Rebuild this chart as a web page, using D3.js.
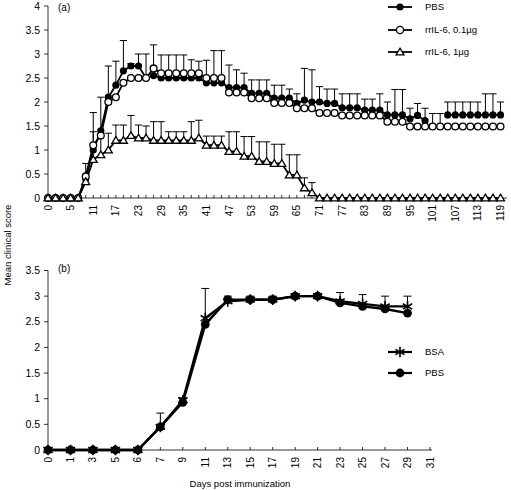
<!DOCTYPE html>
<html><head><meta charset="utf-8">
<script src="https://cdn.jsdelivr.net/npm/d3@7"></script>
<style>body{margin:0;background:#fff} text{font-family:"Liberation Sans",Arial,Helvetica,sans-serif;fill:#000}</style>
</head><body><svg id="c" width="511" height="490"></svg>
<script>
// ---------- Panel (a) data ----------
const topDays = [0,1,3,5,7,9,11,13,15,17,19,21,23,25,27,29,31,33,35,37,39,41,43,45,47,49,51,53,55,57,59,61,63,65,67,69,71,73,75,77,79,81,83,85,87,89,91,93,95,97,99,101,103,105,107,109,111,113,115,117,119];
const topTickLabels = [0,5,11,17,23,29,35,41,47,53,59,65,71,77,83,89,95,101,107,113,119];
const pbsA = [0,0,0,0,0,0.4,1.0,1.4,2.1,2.35,2.65,2.75,2.75,2.5,2.55,2.5,2.5,2.5,2.5,2.5,2.5,2.4,2.4,2.4,2.3,2.3,2.3,2.18,2.18,2.18,2.08,2.08,2.08,1.97,2.04,2.0,2.0,1.97,1.97,1.88,1.88,1.88,1.83,1.83,1.83,1.73,1.73,1.73,1.65,1.72,1.61,null,null,1.73,1.73,1.73,1.73,1.73,1.73,1.73,1.73];
const il01A = [0,0,0,0,0,0.45,1.1,1.3,2.0,2.1,2.4,2.5,2.5,2.5,2.7,2.6,2.6,2.6,2.6,2.6,2.6,2.5,2.5,2.5,2.2,2.2,2.2,2.08,2.08,2.08,1.98,1.98,1.98,1.87,1.87,1.87,1.77,1.77,1.77,1.72,1.72,1.72,1.72,1.72,1.72,1.59,1.59,1.59,1.49,1.49,1.49,1.49,1.49,1.49,1.49,1.49,1.49,1.49,1.49,1.49,1.49];
const il1A = [0,0,0,0,0,0.34,0.8,0.9,1.0,1.2,1.2,1.3,1.25,1.25,1.2,1.2,1.2,1.2,1.2,1.2,1.25,1.1,1.1,1.1,0.97,0.97,0.87,0.87,0.76,0.76,0.72,0.72,0.48,0.48,0.21,0.11,0,0,0,0,0,0,0,0,0,0,0,0,0,0,0,0,0,0,0,0,0,0,0,0,0];
// upper error-bar ends
const pbsAErr = [null,null,null,null,null,0.72,null,2.1,2.75,2.85,3.28,2.8,3.0,3.0,null,null,null,null,null,null,null,null,null,null,2.77,2.67,2.6,2.46,2.46,2.46,2.35,2.35,2.27,2.17,2.7,2.67,2.32,2.27,2.27,2.17,2.17,2.17,2.06,2.06,2.17,2.0,2.26,2.26,1.87,1.97,1.87,null,null,2.0,2.0,2.0,2.0,2.0,2.17,2.17,2.0];
const il01AErr = [null,null,null,null,null,null,1.78,null,null,null,null,null,null,null,3.19,2.98,2.98,2.98,2.98,2.88,2.85,2.87,3.07,3.07,null,null,null,null,null,null,null,null,null,null,null,null,null,null,null,null,null,null,null,null,null,null,null,null,null,null,null,1.76,1.76,null,null,null,null,null,null,null,null];
const il1AErr = [null,null,null,null,null,null,1.38,1.3,1.35,1.52,1.52,1.72,1.52,1.5,1.59,1.59,1.38,1.38,1.38,1.59,1.62,1.29,1.29,1.29,1.38,1.38,1.28,1.28,1.17,1.17,1.12,1.12,0.9,0.9,0.42,0.32,null,null,null,null,null,null,null,null,null,null,null,null,null,null,null,null,null,null,null,null,null,null,null,null,null];
const topYTicks = [0,0.5,1,1.5,2,2.5,3,3.5,4];
const legendA = ["PBS","rrIL-6, 0.1\u00b5g","rrIL-6, 1\u00b5g"];

// ---------- Panel (b) data ----------
const bottomDays = [0,1,3,5,6,7,9,11,13,15,17,19,21,23,25,27,29,31];
const bsaB = [0,0,0,0,0,0.45,0.97,2.57,2.9,2.93,2.93,3.0,3.0,2.9,2.85,2.8,2.8];
const pbsB = [0,0,0,0,0,0.45,0.93,2.45,2.93,2.93,2.93,3.0,3.0,2.87,2.8,2.75,2.67];
const bsaBErr = [null,null,null,null,null,0.72,1.02,3.15,3.0,3.0,3.0,3.02,3.02,3.07,3.03,3.0,3.0];
const bottomYTicks = [0,0.5,1,1.5,2,2.5,3,3.5];
const legendB = ["BSA","PBS"];

const svg = d3.select("#c");

function drawAxes(g, x, y, yTicks, xLabels, x0, x1, labelY){
  const yb = y.range()[0], yt = y.range()[1];
  g.append("line").attr("x1",x0).attr("x2",x0).attr("y1",yb).attr("y2",yt).attr("stroke","#000").attr("stroke-width",0.8);
  g.append("line").attr("x1",x0).attr("x2",x1).attr("y1",yb).attr("y2",yb).attr("stroke","#000").attr("stroke-width",0.8);
  yTicks.forEach(t=>{
    g.append("line").attr("x1",x0-4).attr("x2",x0).attr("y1",y(t)).attr("y2",y(t)).attr("stroke","#000").attr("stroke-width",0.8);
    g.append("text").attr("x",x0-8).attr("y",y(t)).attr("dy","0.35em").attr("text-anchor","end").attr("font-size",10.5).text(String(t));
  });
  x.domain().forEach(d=>{
    g.append("line").attr("x1",x(d)).attr("x2",x(d)).attr("y1",yb).attr("y2",yb-3).attr("stroke","#000").attr("stroke-width",0.8);
  });
  xLabels.forEach(d=>{
    g.append("text").attr("transform",`translate(${x(d)},${labelY}) rotate(-90)`).attr("dy","0.35em").attr("text-anchor","end").attr("font-size",10).text(String(d));
  });
}

function drawErr(g, x, y, days, vals, tops, cap){
  tops.forEach((t,i)=>{
    if(t==null || vals[i]==null) return;
    const cx = x(days[i]);
    g.append("line").attr("x1",cx).attr("x2",cx).attr("y1",y(vals[i])).attr("y2",y(t)).attr("stroke","#000").attr("stroke-width",1);
    g.append("line").attr("x1",cx-cap).attr("x2",cx+cap).attr("y1",y(t)).attr("y2",y(t)).attr("stroke","#000").attr("stroke-width",1);
  });
}

function drawLine(g, x, y, days, vals, w){
  const line = d3.line().defined(d=>d[1]!=null).x(d=>x(d[0])).y(d=>y(d[1]));
  g.append("path").datum(vals.map((v,i)=>[days[i],v])).attr("d",line).attr("fill","none").attr("stroke","#000").attr("stroke-width",w).attr("stroke-linejoin","round");
}

function drawMarkers(g, x, y, days, vals, type, size){
  const pts = vals.map((v,i)=>[days[i],v]).filter(d=>d[1]!=null);
  pts.forEach(d=>drawSymbol(g, x(d[0]), y(d[1]), type, size));
}
function drawSymbol(g, cx, cy, type, size){
  if(type==="filled"){
    g.append("circle").attr("cx",cx).attr("cy",cy).attr("r",size).attr("fill","#000");
  } else if(type==="open"){
    g.append("circle").attr("cx",cx).attr("cy",cy).attr("r",size).attr("fill","#fff").attr("stroke","#000").attr("stroke-width",1.3);
  } else if(type==="tri"){
    const s = size;
    g.append("path").attr("d",`M${cx},${cy-s}L${cx+s*1.05},${cy+s*0.75}L${cx-s*1.05},${cy+s*0.75}Z`).attr("fill","#fff").attr("stroke","#000").attr("stroke-width",1.3);
  } else if(type==="star"){
    g.append("path").attr("transform",`translate(${cx},${cy})`).attr("d",d3.symbol(d3.symbolAsterisk, size*size*4)()).attr("fill","none").attr("stroke","#000").attr("stroke-width",1.6);
  }
}

// ---------- Panel (a) ----------
const gA = svg.append("g");
const xA = d3.scalePoint().domain(topDays).range([48,500.5]);
const yA = d3.scaleLinear().domain([0,4]).range([198,6]);
drawAxes(gA, xA, yA, topYTicks, topTickLabels, 48, 507, 205);
drawErr(gA, xA, yA, topDays, pbsA, pbsAErr, 3.6);
drawErr(gA, xA, yA, topDays, il01A, il01AErr, 3.6);
drawErr(gA, xA, yA, topDays, il1A, il1AErr, 3.6);
drawLine(gA, xA, yA, topDays, pbsA, 1.8);
drawLine(gA, xA, yA, topDays, il01A, 1.8);
drawLine(gA, xA, yA, topDays, il1A, 1.8);
drawMarkers(gA, xA, yA, topDays, pbsA, "filled", 3.6);
drawMarkers(gA, xA, yA, topDays, il01A, "open", 3.4);
drawMarkers(gA, xA, yA, topDays, il1A, "tri", 3.8);
gA.append("text").attr("x",58).attr("y",11).attr("font-size",10).text("(a)");
const legTypes = ["filled","open","tri"];
[7,30,52].forEach((ly,i)=>{
  gA.append("line").attr("x1",388).attr("x2",412).attr("y1",ly).attr("y2",ly).attr("stroke","#000").attr("stroke-width",1.8);
  drawSymbol(gA, 400, ly, legTypes[i], i===2?3.8:3.6);
  gA.append("text").attr("x",425).attr("y",ly).attr("dy","0.35em").attr("font-size",9.5).text(legendA[i]);
});

// ---------- Panel (b) ----------
const gB = svg.append("g");
const xB = d3.scalePoint().domain(bottomDays).range([48,430]);
const yB = d3.scaleLinear().domain([0,3.5]).range([450,270.5]);
drawAxes(gB, xB, yB, bottomYTicks, bottomDays, 48, 432, 457);
drawErr(gB, xB, yB, bottomDays, bsaB, bsaBErr, 4);
drawLine(gB, xB, yB, bottomDays, bsaB, 2.4);
drawLine(gB, xB, yB, bottomDays, pbsB, 2.4);
drawMarkers(gB, xB, yB, bottomDays, bsaB, "star", 4.5);
drawMarkers(gB, xB, yB, bottomDays, pbsB, "filled", 4.4);
gB.append("text").attr("x",58).attr("y",272).attr("font-size",10).text("(b)");
[["star",352],["filled",373]].forEach((d,i)=>{
  gB.append("line").attr("x1",388).attr("x2",412).attr("y1",d[1]).attr("y2",d[1]).attr("stroke","#000").attr("stroke-width",2.2);
  drawSymbol(gB, 400, d[1], d[0], 4.4);
  gB.append("text").attr("x",425).attr("y",d[1]).attr("dy","0.35em").attr("font-size",9.5).text(legendB[i]);
});

// axis titles
svg.append("text").attr("transform","translate(8,245) rotate(-90)").attr("dy","0.35em").attr("text-anchor","middle").attr("font-size",9.5).text("Mean clinical score");
svg.append("text").attr("x",240).attr("y",487).attr("text-anchor","middle").attr("font-size",9.5).text("Days post immunization");
</script></body></html>
